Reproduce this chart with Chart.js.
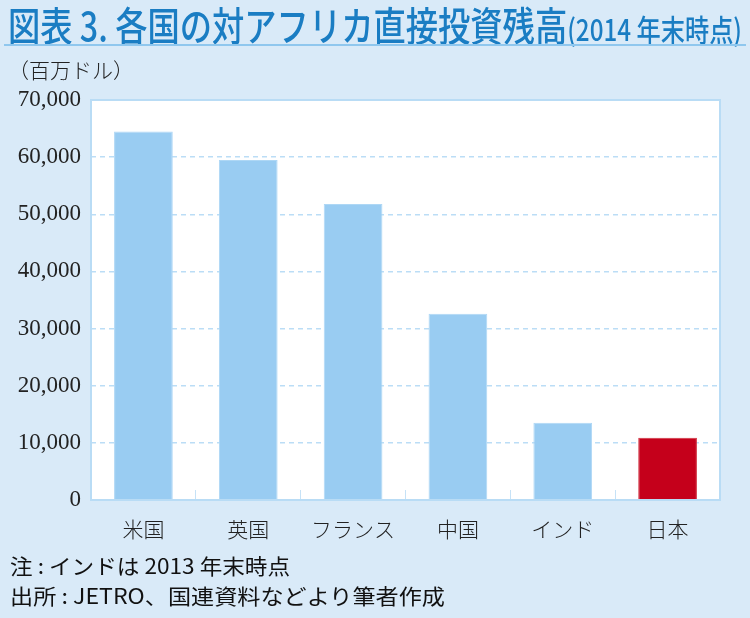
<!DOCTYPE html>
<html lang="ja">
<head>
<meta charset="utf-8">
<script src="https://cdn.jsdelivr.net/npm/chart.js@4.4.1/dist/chart.umd.min.js"></script>
<style>
  html, body { margin:0; padding:0; }
  body { width:750px; height:618px; background:#D9EAF8; position:relative; overflow:hidden; font-family:"Noto Sans CJK JP", sans-serif; }
  #title { position:absolute; left:8px; top:-5px; white-space:nowrap; color:#1A7DC3; font-family:"Noto Sans CJK JP"; font-weight:500; transform-origin:0 0; }
  #title .main { font-size:40px; }
  #title .sub { font-size:30px; font-weight:500; }
  #rule { position:absolute; left:4px; top:44px; width:742px; height:2px; background:#8FC7EE; }
  #unit { position:absolute; left:8px; top:54px; font-size:21px; color:#222; font-family:"Noto Sans CJK JP"; font-weight:300; }
  .note { position:absolute; left:10px; font-size:21px; color:#111; font-family:"Noto Sans CJK JP"; font-weight:400; white-space:nowrap; transform-origin:0 0; }
  #chartWrap { position:absolute; left:0; top:0; width:750px; height:618px; }
</style>
</head>
<body>
<div id="chartWrap"><canvas id="c" width="750" height="618"></canvas></div>
<div id="title"><span class="main">図表 3. 各国の対アフリカ直接投資残高</span><span class="sub">(2014 年末時点)</span></div>
<div id="rule"></div>
<div id="unit">（百万ドル）</div>
<div class="note" id="n1" style="top:550px;">注 : インドは 2013 年末時点</div>
<div class="note" id="n2" style="top:580px;">出所 : JETRO、国連資料などより筆者作成</div>
<script>
const categories = ["米国", "英国", "フランス", "中国", "インド", "日本"];
const investmentStock = [64500, 59500, 51800, 32600, 13500, 10900];
const yTicks = [0, 10000, 20000, 30000, 40000, 50000, 60000, 70000];

const barColors = categories.map(c => c === "日本" ? "#C5001B" : "#99CCF2");
const barBorders = categories.map(c => c === "日本" ? "#D0303F" : "#AED7F5");

function fitWidth(id, w) {
  const el = document.getElementById(id);
  const cw = el.getBoundingClientRect().width;
  el.style.transform = 'scaleX(' + (w / cw) + ')';
}
fitWidth('title', 734);
fitWidth('n1', 280);
fitWidth('n2', 435);

const plotFrame = {
  id: 'plotFrame',
  beforeDraw(chart) {
    const a = chart.chartArea, ctx = chart.ctx;
    ctx.save();
    ctx.fillStyle = '#FFFFFF';
    ctx.fillRect(a.left, a.top, a.right - a.left, a.bottom - a.top);
    ctx.restore();
  },
  afterDraw(chart) {
    const a = chart.chartArea, ctx = chart.ctx;
    ctx.save();
    ctx.strokeStyle = '#B9DCF5';
    ctx.lineWidth = 2;
    ctx.strokeRect(a.left, a.top, a.right - a.left, a.bottom - a.top);
    ctx.restore();
  }
};

new Chart(document.getElementById('c'), {
  type: 'bar',
  data: {
    labels: categories,
    datasets: [{
      data: investmentStock,
      backgroundColor: barColors,
      borderColor: barBorders,
      borderWidth: 1,
      barPercentage: 0.56,
      categoryPercentage: 1.0
    }]
  },
  options: {
    responsive: false,
    animation: false,
    devicePixelRatio: 1,
    layout: { padding: { top: 100, right: 30, left: 0, bottom: 0 } },
    plugins: { legend: { display: false }, tooltip: { enabled: false } },
    scales: {
      x: {
        grid: { display: true, offset: true, drawOnChartArea: false, drawTicks: true, tickLength: -10, color: '#C6E2F7', lineWidth: 1 },
        border: { display: false },
        ticks: { padding: 26, color: '#222', font: { family: '"Noto Sans CJK JP"', size: 21, weight: 300 } },
        afterFit(s) { s.height = 118; }
      },
      y: {
        min: 0, max: 70000,
        afterBuildTicks(s) { s.ticks = yTicks.map(v => ({ value: v })); },
        grid: { color: (ctx) => ctx.tick && ctx.tick.value === 0 ? 'rgba(0,0,0,0)' : '#BBDDF6', lineWidth: 1.5, drawTicks: false },
        border: { display: false, dash: [5, 4] },
        ticks: {
          padding: 10, color: '#222',
          font: { family: '"Liberation Serif", serif', size: 23 },
          callback: v => v.toLocaleString('en-US')
        },
        afterFit(s) { s.width = 91; }
      }
    }
  },
  plugins: [plotFrame]
});
</script>
</body>
</html>
